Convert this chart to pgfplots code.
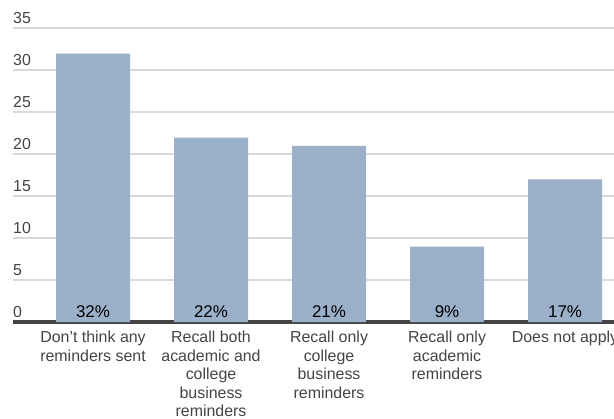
\documentclass[border=0pt]{standalone}
\usepackage{pgfplots}
\pgfplotsset{compat=1.18}
\usepackage{fontspec}
\setmainfont{Liberation Sans}
\definecolor{barblue}{RGB}{155,176,201}
\definecolor{gridgray}{RGB}{217,217,217}
\definecolor{axisgray}{RGB}{68,68,68}
\definecolor{txtgray}{RGB}{68,68,68}
\begin{document}
\begin{tikzpicture}
\begin{axis}[
  scale only axis,
  width=601bp, height=293.5bp,
  anchor=south west, at={(13bp,97bp)},
  xmin=-0.678, xmax=4.415,
  ymin=0, ymax=35,
  ytick={0,5,...,35},
  xtick={0,1,2,3,4},
  xticklabels={Don’t think any\\reminders sent, Recall both\\academic and\\college\\business\\reminders, Recall only\\college\\business\\reminders, Recall only\\academic\\reminders, Does not apply},
  axis line style={draw=none},
  major tick length=0pt,
  ymajorgrids,
  grid style={draw=gridgray, line width=2bp},
  extra y ticks={0},
  extra y tick labels={},
  extra y tick style={grid style={draw=axisgray, line width=3bp}},
  /pgf/number format/assume math mode=true,
  yticklabel style={font=\fontsize{16}{18}\selectfont, text=txtgray, anchor=base west, inner sep=0pt, xshift=0bp, yshift=5bp},
  xticklabel style={font=\fontsize{16}{18.5}\selectfont, text=txtgray, align=center, anchor=north, inner sep=0pt, yshift=-9bp},
  clip=false,
]
\addplot[ybar, bar width=0.627, bar shift=0pt, fill=barblue, draw=none] coordinates {(0,32) (1,22) (2,21) (3,9) (4,17)};
\addplot[draw=none, mark=none, nodes near coords={\pgfmathprintnumber{\pgfplotspointmeta}\%}, point meta=explicit,
  nodes near coords style={font=\fontsize{17}{18}\selectfont, text=black, inner sep=0pt, anchor=base, yshift=5bp}]
  coordinates {(0,0) [32] (1,0) [22] (2,0) [21] (3,0) [9] (4,0) [17]};
\end{axis}
\pgfresetboundingbox
\useasboundingbox (0,0) rectangle (614bp,419bp);
\end{tikzpicture}
\end{document}
